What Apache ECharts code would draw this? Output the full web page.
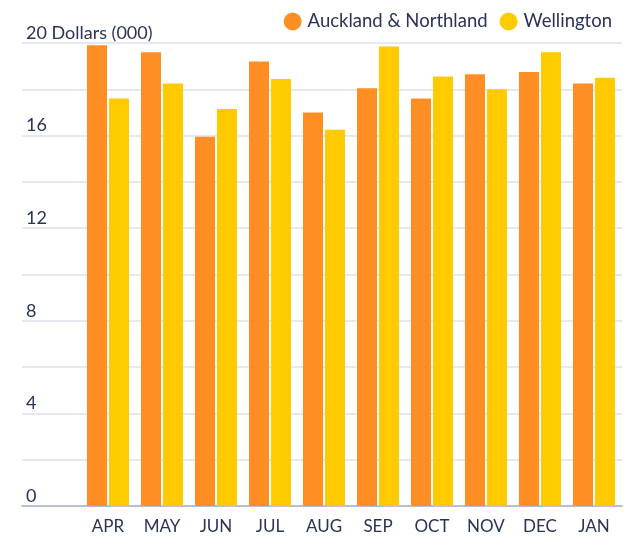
<!DOCTYPE html>
<html>
<head>
<meta charset="utf-8">
<script src="https://cdn.jsdelivr.net/npm/echarts@6/dist/echarts.min.js"></script>
<style>
  html, body { margin: 0; padding: 0; background: #fff; }
  #main { width: 638px; height: 539px; }
</style>
</head>
<body>
<div id="main"></div>
<script>
// 数据
var months = ['APR', 'MAY', 'JUN', 'JUL', 'AUG', 'SEP', 'OCT', 'NOV', 'DEC', 'JAN'];
var auckland = [19.9, 19.6, 15.95, 19.2, 17.0, 18.05, 17.6, 18.65, 18.75, 18.25];
var wellington = [17.6, 18.25, 17.15, 18.45, 16.25, 19.85, 18.55, 18.0, 19.6, 18.5];
var yTicks = [0, 4, 8, 12, 16, 20];

var textColor = '#2a3358';
var fontFamily = 'Lato, sans-serif';

var myChart = echarts.init(document.getElementById('main'));

var option = {
  backgroundColor: '#fff',
  textStyle: { fontFamily: fontFamily },
  legend: {
    data: ['Auckland & Northland', 'Wellington'],
    right: 21,
    top: 7,
    icon: 'circle',
    itemWidth: 18,
    itemHeight: 18,
    itemGap: 12,
    textStyle: { color: textColor, fontSize: 18.5, fontFamily: fontFamily, padding: [0, 0, 0, 1] }
  },
  grid: [
    { left: 22, right: 16, top: 43, bottom: 33 },
    { left: 81, right: 17, top: 43, bottom: 33 }
  ],
  xAxis: [
    {
      gridIndex: 0, type: 'value', min: 0, max: 1,
      axisLine: { show: true, lineStyle: { color: '#a9b1c9', width: 1.5 } },
      axisTick: { show: false }, axisLabel: { show: false }, splitLine: { show: false }
    },
    {
      gridIndex: 1, type: 'category', data: months,
      axisLine: { show: false }, axisTick: { show: false },
      axisLabel: { color: textColor, fontSize: 17, margin: 12, fontFamily: fontFamily }
    }
  ],
  yAxis: [
    {
      gridIndex: 0, type: 'value', min: 0, max: 20, interval: 2,
      axisLine: { show: false }, axisTick: { show: false },
      splitLine: { lineStyle: { color: '#dde0e9', width: 1.5 } },
      axisLabel: {
        inside: true, verticalAlign: 'bottom', color: textColor, fontSize: 18,
        margin: 4, padding: [0, 0, 1, 0], fontFamily: fontFamily,
        formatter: function (v) {
          if (yTicks.indexOf(v) < 0) return '';
          return v === 20 ? '20 Dollars (000)' : String(v);
        }
      }
    },
    {
      gridIndex: 1, type: 'value', min: 0, max: 20,
      axisLine: { show: false }, axisTick: { show: false },
      axisLabel: { show: false }, splitLine: { show: false }
    }
  ],
  series: [
    {
      name: 'Auckland & Northland', type: 'bar', xAxisIndex: 1, yAxisIndex: 1,
      data: auckland, barWidth: 20, barGap: '10%',
      itemStyle: { color: '#ff8f24' }
    },
    {
      name: 'Wellington', type: 'bar', xAxisIndex: 1, yAxisIndex: 1,
      data: wellington, barWidth: 20, barGap: '10%',
      itemStyle: { color: '#ffca00' }
    }
  ]
};

myChart.setOption(option);
</script>
</body>
</html>
